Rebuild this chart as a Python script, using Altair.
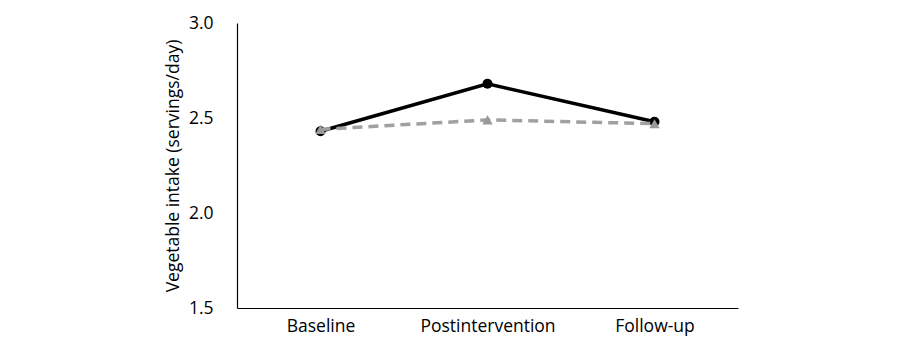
import altair as alt
import pandas as pd

timepoints = ["Baseline", "Postintervention", "Follow-up"]
intervention = [2.43, 2.68, 2.48]
control = [2.44, 2.49, 2.47]

rows = []
for t, v in zip(timepoints, intervention):
    rows.append({"time": t, "value": v, "group": "Intervention"})
for t, v in zip(timepoints, control):
    rows.append({"time": t, "value": v, "group": "Control"})
df = pd.DataFrame(rows)

FONT = "Open Sans"

x = alt.X("time:N", sort=timepoints, scale=alt.Scale(paddingInner=0, paddingOuter=0.5),
          axis=alt.Axis(title=None, labelAngle=0, ticks=False, domainColor="#000000",
                        domainWidth=1.2, labelFont=FONT, labelFontSize=17.5, labelColor="#000000",
                        labelPadding=9))
y = alt.Y("value:Q", scale=alt.Scale(domain=[1.5, 3.0], nice=False, zero=False),
          axis=alt.Axis(title="Vegetable intake (servings/day)", values=[1.5, 2.0, 2.5, 3.0],
                        format=".1f", grid=False, ticks=False, domainColor="#000000",
                        domainWidth=1.2, labelFont=FONT, labelFontSize=17.5, labelColor="#000000",
                        labelPadding=24, titleFont=FONT, titleFontSize=17.5,
                        titleFontWeight="normal", titleColor="#000000", titlePadding=6))

black = df[df.group == "Intervention"]
gray = df[df.group == "Control"]

l1 = alt.Chart(black).mark_line(color="#000000", strokeWidth=3.5).encode(x=x, y=y)
p1 = alt.Chart(black).mark_point(shape="circle", filled=True, color="#000000", size=100, opacity=1).encode(x=x, y=y)
l2 = alt.Chart(gray).mark_line(color="#a0a0a0", strokeWidth=3.5, strokeDash=[10, 6]).encode(x=x, y=y)
p2 = alt.Chart(gray).mark_point(shape="triangle-up", filled=True, color="#999999", size=110, opacity=1).encode(x=x, y=y)

chart = alt.layer(l1, p1, l2, p2).properties(
    width=501, height=285,
    autosize=alt.AutoSizeParams(type="none"),
    padding={"left": 237, "top": 23, "right": 162, "bottom": 47},
    background="#ffffff",
).configure_view(stroke=None)

chart.save("out.html", embed_options={"renderer": "svg", "actions": False})
